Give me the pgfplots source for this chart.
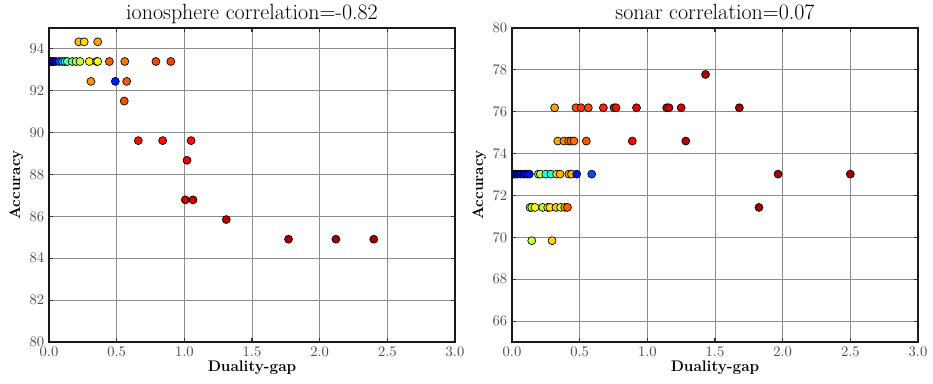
\documentclass[border=0pt]{standalone}
\usepackage{pgfplots}
\pgfplotsset{compat=1.18}
\pgfplotstableread{
x y c
0.000 93.40 0.00
0.008 93.40 0.01
0.016 93.40 0.03
0.025 93.40 0.05
0.035 93.40 0.07
0.050 93.40 0.10
0.076 93.40 0.20
0.100 93.40 0.30
0.118 93.40 0.38
0.135 93.40 0.45
0.172 93.40 0.50
0.200 93.40 0.54
0.229 93.40 0.57
0.298 93.40 0.63
0.352 93.40 0.58
0.360 93.40 0.62
0.446 93.40 0.78
0.560 93.40 0.76
0.790 93.40 0.81
0.900 93.40 0.81
0.220 94.34 0.69
0.260 94.34 0.66
0.360 94.34 0.71
0.310 92.45 0.73
0.490 92.45 0.15
0.574 92.45 0.79
0.556 91.51 0.80
0.660 89.62 0.86
0.840 89.62 0.86
1.050 89.62 0.86
1.020 88.68 0.89
1.007 86.79 0.93
1.064 86.79 0.93
1.310 85.85 0.94
1.770 84.91 0.96
2.120 84.91 0.96
2.400 84.91 0.96
}\iono
\pgfplotstableread{
x y c
0.000 73.02 0.00
0.010 73.02 0.01
0.025 73.02 0.03
0.040 73.02 0.05
0.064 73.02 0.07
0.090 73.02 0.09
0.110 73.02 0.11
0.128 73.02 0.14
0.195 73.02 0.52
0.210 73.02 0.56
0.250 73.02 0.42
0.288 73.02 0.40
0.330 73.02 0.66
0.355 73.02 0.70
0.420 73.02 0.72
0.440 73.02 0.70
0.478 73.02 0.14
0.589 73.02 0.20
1.966 73.02 0.96
2.500 73.02 0.96
0.338 74.60 0.71
0.384 74.60 0.74
0.419 74.60 0.75
0.436 74.60 0.76
0.458 74.60 0.77
0.549 74.60 0.79
0.889 74.60 0.88
1.284 74.60 0.94
0.315 76.19 0.72
0.473 76.19 0.80
0.510 76.19 0.82
0.564 76.19 0.80
0.675 76.19 0.84
0.754 76.19 0.86
0.769 76.19 0.86
0.920 76.19 0.89
1.143 76.19 0.93
1.160 76.19 0.93
1.250 76.19 0.91
1.680 76.19 0.96
1.430 77.78 0.95
0.133 71.43 0.55
0.146 71.43 0.57
0.170 71.43 0.62
0.227 71.43 0.56
0.264 71.43 0.63
0.280 71.43 0.65
0.325 71.43 0.68
0.360 71.43 0.58
0.390 71.43 0.72
0.410 71.43 0.78
1.825 71.43 0.96
0.146 69.84 0.57
0.296 69.84 0.67
}\sonar
\pgfplotsset{
  colormap={myjet}{rgb255(0cm)=(0,0,128) rgb255(1cm)=(0,0,255) rgb255(3cm)=(0,255,255) rgb255(5cm)=(255,255,0) rgb255(7cm)=(255,0,0) rgb255(8cm)=(128,0,0)},
  myax/.style={
    scale only axis, width=304.5pt, height=235.5pt,
    xmin=0, xmax=3, xtick={0,0.5,...,3},
    xticklabel style={/pgf/number format/.cd, fixed, fixed zerofill, precision=1},
    grid=major, major grid style={black!45, line width=0.75pt},
    axis line style={black!90, line width=1.1pt},
    major tick length=3pt, tick style={black!80, line width=0.8pt},
    tick label style={font=\fontsize{11}{13}\selectfont, text=black!70},
    label style={font=\fontsize{11.5}{13}\selectfont\bfseries},
    every axis title shift=0pt,
    title style={font=\fontsize{16.5}{19}\selectfont, at={(0.5,1)}, anchor=base, yshift=6.5pt},
    xlabel={Duality-gap}, ylabel={Accuracy},
    xlabel style={yshift=3pt}, ylabel style={yshift=-2pt},
    point meta min=0, point meta max=1,
    clip marker paths=true,
  },
  myscat/.style={scatter, only marks, scatter src=explicit, mark=*, mark size=3pt,
    scatter/use mapped color={draw=black, fill=mapped color}, mark options={line width=0.5pt}},
}
\begin{document}
\begin{tikzpicture}
\begin{axis}[myax, ymin=80, ymax=95, ytick={80,82,...,94},
  title={ionosphere correlation=-0.82}]
\addplot[myscat] table[x=x, y=y, meta=c] {\iono};
\end{axis}
\begin{axis}[myax, xshift=347.25pt, ymin=65, ymax=80, ytick={66,68,...,80},
  title={sonar correlation=0.07}]
\addplot[myscat] table[x=x, y=y, meta=c] {\sonar};
\end{axis}
\pgfresetboundingbox
\path[use as bounding box] (-36.75pt,-30.75pt) rectangle (663pt,256.5pt);
\end{tikzpicture}
\end{document}
